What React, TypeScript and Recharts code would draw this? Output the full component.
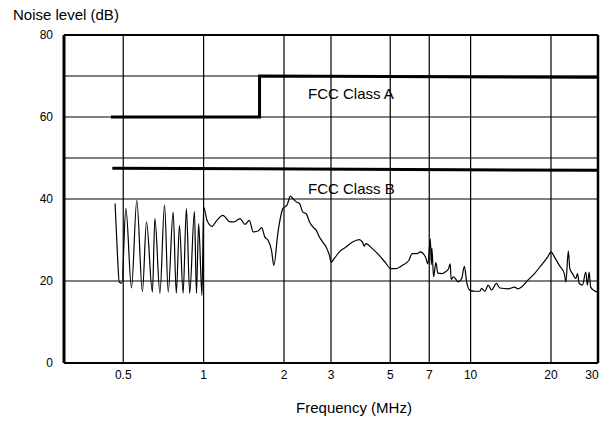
import { LineChart, Line, XAxis, YAxis, ReferenceLine } from "recharts";

// measured noise trace (MHz, dB)
const NOISE_FREQ = [
  0.466, 0.476, 0.483, 0.494, 0.5115, 0.537, 0.562, 0.59, 0.611, 0.643, 0.657, 0.686,
  0.714, 0.737, 0.769, 0.79, 0.812, 0.838, 0.862, 0.887, 0.924, 0.94, 0.958, 0.986,
  1.0, 1.03, 1.075, 1.121, 1.181, 1.257, 1.3, 1.369, 1.429, 1.483, 1.534, 1.602,
  1.649, 1.696, 1.745, 1.796, 1.832, 1.9, 1.983, 2.053, 2.113, 2.161, 2.225, 2.288,
  2.353, 2.423, 2.493, 2.565, 2.64, 2.716, 2.793, 2.876, 2.958, 3.002, 3.088, 3.223,
  3.413, 3.612, 3.825, 3.934, 3.991, 4.049, 4.285, 4.539, 4.806, 5.017, 5.236, 5.54,
  5.868, 6.036, 6.298, 6.484, 6.768, 6.92, 7.065, 7.125, 7.161, 7.266, 7.411, 7.539,
  7.803, 8.034, 8.264, 8.385, 8.456, 8.625, 9.003, 9.26, 9.475, 9.663, 9.949, 10.38,
  10.84, 10.99, 11.31, 11.64, 11.97, 12.5, 12.86, 13.81, 14.62, 15.04, 15.48, 16.39,
  17.35, 18.36, 19.45, 20.0, 20.6, 21.49, 22.43, 22.75, 23.22, 23.53, 24.08, 24.77,
  25.14, 25.51, 26.24, 26.99, 27.38, 27.79, 28.17, 29.01, 29.9,
];
const NOISE_DB = [
  38.9, 26, 19.7, 19.5, 37.7, 18.3, 39.7, 17.4, 34.4, 17.3, 35.2, 17,
  38.6, 17.3, 36.8, 17, 33.6, 17, 37.7, 17, 37, 17, 34, 16.5,
  38, 34.8, 33.3, 34.8, 36, 34.4, 34.4, 35.2, 33.8, 34.8, 32, 32.2,
  33, 30.7, 29.9, 27.5, 23.8, 32, 37.7, 38.5, 40.7, 40.1, 39.3, 38.9,
  36.8, 36.4, 34.4, 33.2, 32.4, 30.7, 29.5, 28.3, 26.3, 24.6, 25.5, 27.1,
  28.3, 29.5, 30.1, 29.5, 28.5, 29.1, 27.9, 26.3, 24.4, 23, 23, 23.8,
  25, 26.7, 26.7, 27.1, 25.9, 24.2, 30.3, 24, 28, 21, 24.5, 21.9,
  21.8, 22.2, 23, 24.2, 20.4, 21, 19.8, 20.6, 23.6, 19.8, 17.7, 17.5,
  17.5, 18.2, 17.5, 19, 17.8, 19.4, 18.3, 18.1, 18.5, 18.1, 18.5, 20.2,
  21.8, 23.8, 25.9, 27.1, 25.9, 23.8, 21.8, 19.8, 27.3, 23, 21.8, 20.6,
  21.8, 19.4, 19, 22.2, 19, 22.2, 18.5, 17.7, 17.3,
];

const CLASS_A_FREQ = [0.45, 1.62, 1.62, 30];
const CLASS_A_DB = [60, 60, 70, 69.7];
const CLASS_B_FREQ = [0.455, 30];
const CLASS_B_DB = [47.5, 47];

const X_TICKS = [0.5, 1, 2, 3, 5, 7, 10, 20, 30];
const Y_TICKS = [0, 20, 40, 60, 80];
const X_GRID = [0.5, 1, 2, 3, 5, 7, 10, 20];
const Y_GRID = [20, 40, 50, 60, 70];

const toRows = (fs: number[], vs: number[]) => fs.map((f, i) => ({ freq: f, db: vs[i] }));

function FreqTick({ x, y, payload }: any) {
  const shift = payload.value === 30 ? -6 : 0;
  return (
    <text x={x + shift} y={y} dy="0.71em" textAnchor="middle" fontSize={12} fill="#000">
      {payload.value}
    </text>
  );
}

export default function App() {
  const noise = toRows(NOISE_FREQ, NOISE_DB);
  const classA = toRows(CLASS_A_FREQ, CLASS_A_DB);
  const classB = toRows(CLASS_B_FREQ, CLASS_B_DB);

  return (
    <div
      style={{
        position: "absolute",
        left: 0,
        top: 0,
        width: 607,
        height: 424,
        background: "#fff",
        fontFamily: '"Liberation Sans", Arial, sans-serif',
      }}
    >
      <LineChart width={607} height={424} margin={{ top: 35, right: 9, bottom: 0, left: 0 }}>
        <XAxis
          dataKey="freq"
          type="number"
          scale="log"
          domain={[0.3, 30]}
          allowDataOverflow
          ticks={X_TICKS}
          tickSize={0}
          tickMargin={7}
          tick={<FreqTick />}
          height={61}
          axisLine={{ stroke: "#000", strokeWidth: 2 }}
        />
        <YAxis
          type="number"
          domain={[0, 80]}
          ticks={Y_TICKS}
          tickSize={0}
          tickMargin={11}
          width={64}
          tick={{ fontSize: 12, fill: "#000" }}
          axisLine={{ stroke: "#000", strokeWidth: 3 }}
        />
        {X_GRID.map((v) => (
          <ReferenceLine key={"x" + v} x={v} stroke="#000" strokeWidth={1.2} />
        ))}
        {Y_GRID.map((v) => (
          <ReferenceLine key={"y" + v} y={v} stroke="#000" strokeWidth={1.2} />
        ))}
        <ReferenceLine y={80} stroke="#000" strokeWidth={2} />
        <ReferenceLine x={30} stroke="#000" strokeWidth={2.5} />
        <Line
          data={classA}
          dataKey="db"
          type="linear"
          stroke="#000"
          strokeWidth={3}
          dot={false}
          isAnimationActive={false}
        />
        <Line
          data={classB}
          dataKey="db"
          type="linear"
          stroke="#000"
          strokeWidth={3}
          dot={false}
          isAnimationActive={false}
        />
        <Line
          data={noise}
          dataKey="db"
          type="monotoneX"
          stroke="#000"
          strokeWidth={1.2}
          dot={false}
          isAnimationActive={false}
        />
      </LineChart>
      <svg
        width={607}
        height={424}
        style={{ position: "absolute", left: 0, top: 0, pointerEvents: "none" }}
      >
        <text x={13} y={19.5} fontSize={15} fill="#000">
          Noise level (dB)
        </text>
        <text x={308} y={99} fontSize={15} fill="#000">
          FCC Class A
        </text>
        <text x={308} y={194} fontSize={15} fill="#000">
          FCC Class B
        </text>
        <text x={354} y={413} fontSize={15} fill="#000" textAnchor="middle">
          Frequency (MHz)
        </text>
      </svg>
    </div>
  );
}
